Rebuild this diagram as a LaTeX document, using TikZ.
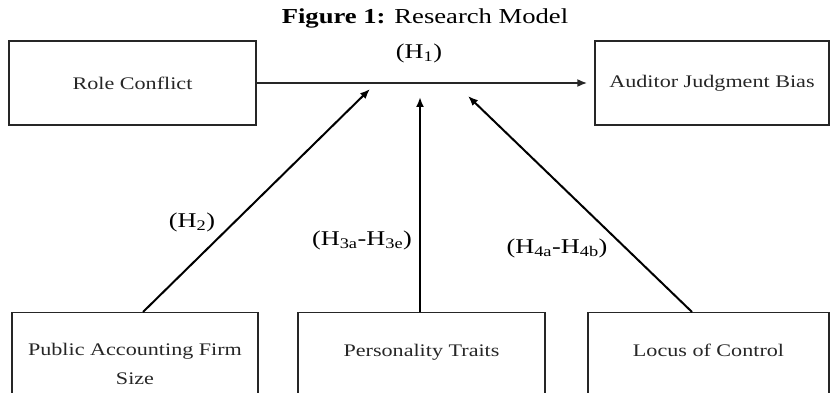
\documentclass[tikz,border=0pt]{standalone}
\usepackage{fontspec}
\setmainfont{Liberation Serif}[FakeStretch=1.25]
\usetikzlibrary{arrows.meta}

\begin{document}
\begin{tikzpicture}[
      x=1pt, y=-1pt,
      box/.style={draw=black!85, line width=1.3pt, rectangle, text=black!85,
        font=\fontsize{17.7}{29}\selectfont},
      topbox/.style={box, minimum height=84pt},
      lowbox/.style={box, anchor=north, inner ysep=4pt, text height=40pt,
        text depth=80pt, align=center},
      hyp/.style={font=\fontsize{21}{24}\selectfont},
      main/.style={line width=2.6pt, draw=black!85, -{Latex[length=10pt,width=8pt]}, shorten >=7pt},
      moder/.style={line width=2pt, -{Latex[length=10pt,width=8pt]}}
    ]
    \useasboundingbox (0,0) rectangle (830,393);
    \clip (0,0) rectangle (830,393);
    % Title.
    \node[font=\fontsize{21.3}{24}\selectfont] (title) at (425,18) {\textbf{Figure 1:} Research Model};
    % Draw the constructs.
    \node[topbox, minimum width=247pt] (role) at (132.5,83) {Role Conflict};
    \node[topbox, minimum width=234pt] (judge) at (712,83) {Auditor Judgment Bias};
    \node[lowbox, minimum width=246pt, text height=68pt] (firm) at (135,312) {Public Accounting Firm\\Size};
    \node[lowbox, minimum width=247pt] (pers) at (421.5,312) {Personality Traits};
    \node[lowbox, minimum width=241pt] (locus) at (708.5,312) {Locus of Control};
    % Points on the main path.
    \coordinate (h2) at (370,89);
    \coordinate (h3) at (420,97);
    \coordinate (h4) at (468,96);
    % Draw the hypotheses.
    \draw[main] (role.east) -- (judge.west);
    \draw[moder] ([xshift=8pt]firm.north) -- (h2);
    \draw[moder] ([xshift=-1.5pt]pers.north) -- (h3);
    \draw[moder] ([xshift=-16.5pt]locus.north) -- (h4);
    \node[hyp] (l1) at (419,53) {(H\textsubscript{1})};
    \node[hyp] (l2) at (192,222) {(H\textsubscript{2})};
    \node[hyp] (l3) at (362,240) {(H\textsubscript{3a}-H\textsubscript{3e})};
    \node[hyp] (l4) at (557,248) {(H\textsubscript{4a}-H\textsubscript{4b})};
\end{tikzpicture}
\end{document}
